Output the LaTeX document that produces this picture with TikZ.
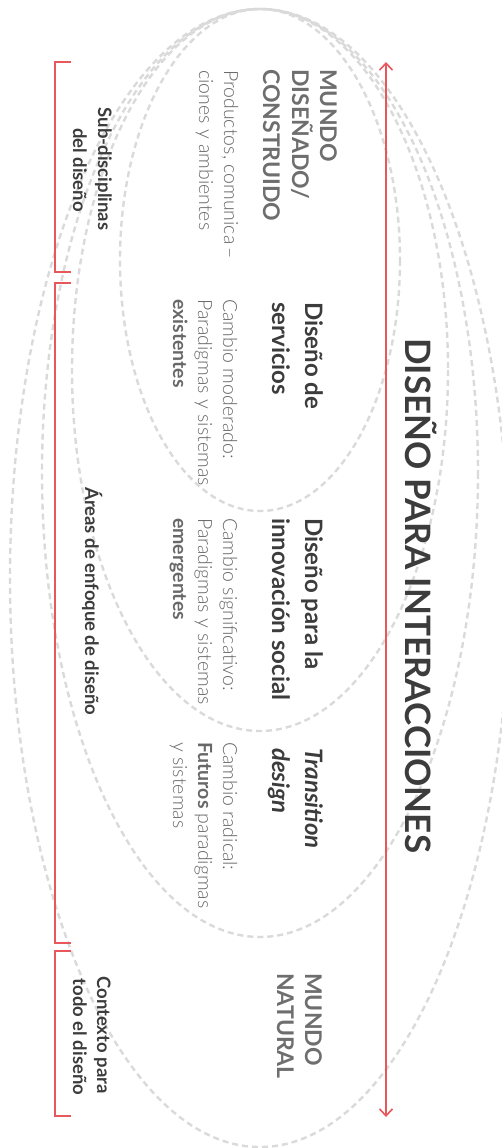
\documentclass[tikz,border=0pt]{standalone}
\usepackage{fontspec}
\setmainfont{Lato}
\newfontfamily\lightfont{Lato Light}
\usetikzlibrary{arrows.meta}
\definecolor{ringgray}{HTML}{DADADA}
\definecolor{accentred}{HTML}{E8585B}
\definecolor{darktext}{HTML}{3C3C3C}
\definecolor{midtext}{HTML}{6E6E6E}
\definecolor{softtext}{HTML}{686868}

\begin{document}
\begin{tikzpicture}[x=1pt, y=-1pt,
  ring/.style={draw=ringgray, line width=2.4pt, dash pattern=on 6pt off 4pt},
  redline/.style={draw=accentred, line width=1.6pt},
  vtext/.style={rotate=-90, anchor=base west, inner sep=0pt},
  vcenter/.style={rotate=-90, anchor=base, inner sep=0pt},
  titlefont/.style={font=\fontsize{35}{40}\selectfont\bfseries, text=darktext},
  worldfont/.style={font=\fontsize{23}{28}\selectfont\bfseries, text=midtext},
  areafont/.style={font=\fontsize{24}{30}\selectfont\bfseries, text=darktext},
  notefont/.style={font=\fontsize{19.5}{25}\selectfont\lightfont, text=softtext},
  sidefont/.style={font=\fontsize{18.5}{24}\selectfont\bfseries, text=darktext}
]
\useasboundingbox (0,0) rectangle (501,1148);

% nested rings, all touching at the top
\draw[ring] (260,260) ellipse [x radius=140, y radius=251];
\draw[ring] (260,370) ellipse [x radius=188, y radius=361];
\draw[ring] (260,473) ellipse [x radius=218, y radius=464];
\draw[ring] (260,578) ellipse [x radius=250, y radius=569];

% double arrow along the whole range
\coordinate (arrowtop) at (386,62);
\coordinate (arrowbot) at (386,1117);
\draw[redline, {Straight Barb[length=7pt, width=13pt]}-{Straight Barb[length=7pt, width=13pt]}] (arrowtop) -- (arrowbot);

% brackets on the left
\coordinate (b1a) at (71,62);   \coordinate (b1b) at (71,272);
\coordinate (b2a) at (71,283);  \coordinate (b2b) at (71,943);
\coordinate (b3a) at (71,951);  \coordinate (b3b) at (71,1116);
\draw[redline] (b1a) -| (55,272) -- (b1b);
\draw[redline] (b2a) -| (55,943) -- (b2b);
\draw[redline] (b3a) -| (55,1116) -- (b3b);

% title
\node[vtext, titlefont] (title) at (405,338) {DISEÑO PARA INTERACCIONES};

% designed / built world
\node[vtext, worldfont] (dw1) at (320,69) {MUNDO};
\node[vtext, worldfont] (dw2) at (292,69) {DISEÑADO/};
\node[vtext, worldfont] (dw3) at (263,69) {CONSTRUIDO};
\node[vtext, notefont] (dn1) at (224,70) {Productos, comunica\,–};
\node[vtext, notefont] (dn2) at (199,70) {ciones y ambientes};

% service design
\node[vtext, areafont] (sv1) at (305,302) {Diseño de};
\node[vtext, areafont] (sv2) at (272,302) {servicios};
\node[vtext, notefont] (sn1) at (223,299) {Cambio moderado:};
\node[vtext, notefont] (sn2) at (198,299) {Paradigmas y sistemas};
\node[vtext, notefont] (sn3) at (173,299) {\rmfamily\bfseries existentes};

% social innovation
\node[vtext, areafont] (si1) at (305,518) {Diseño para la};
\node[vtext, areafont] (si2) at (272,518) {innovación social};
\node[vtext, notefont] (sin1) at (223,518) {Cambio significativo:};
\node[vtext, notefont] (sin2) at (198,518) {Paradigmas y sistemas};
\node[vtext, notefont] (sin3) at (173,518) {\rmfamily\bfseries emergentes};

% transition design
\node[vtext, areafont] (td1) at (305,748) {\itshape Transition};
\node[vtext, areafont] (td2) at (272,748) {\itshape design};
\node[vtext, notefont] (tn1) at (223,742) {Cambio radical:};
\node[vtext, notefont] (tn2) at (198,742) {{\rmfamily\bfseries Futuros} paradigmas};
\node[vtext, notefont] (tn3) at (173,742) {y sistemas};

% natural world
\node[vtext, worldfont] (nw1) at (305,973) {MUNDO};
\node[vtext, worldfont] (nw2) at (277,973) {NATURAL};

% side labels
\node[vcenter, sidefont] (sd1) at (98,169) {Sub-disciplinas};
\node[vcenter, sidefont] (sd2) at (73,170) {del diseño};
\node[vtext, sidefont] (fa) at (85,487) {Áreas de enfoque de diseño};
\node[vcenter, sidefont] (cx1) at (97,1035) {Contexto para};
\node[vcenter, sidefont] (cx2) at (73,1037) {todo el diseño};
\end{tikzpicture}
\end{document}
